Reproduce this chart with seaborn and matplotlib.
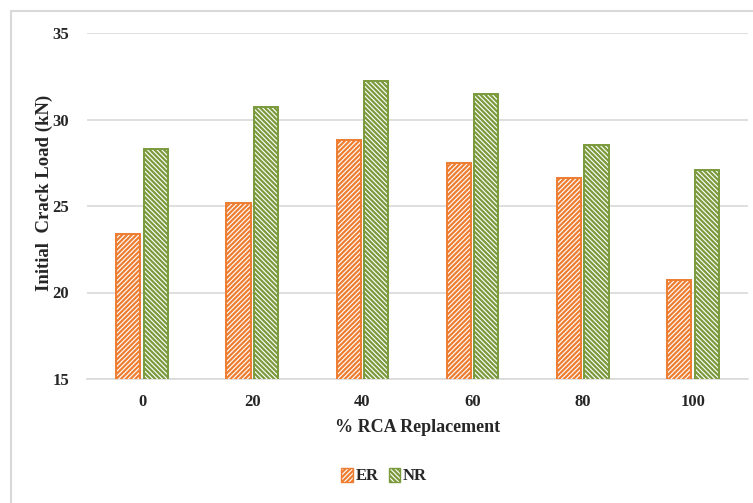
import matplotlib
matplotlib.use("Agg")
import matplotlib.pyplot as plt
import seaborn as sns
import pandas as pd
from matplotlib.patches import Patch, Rectangle

categories = ["0", "20", "40", "60", "80", "100"]
er_values = [23.4, 25.2, 28.8, 27.5, 26.6, 20.7]
nr_values = [28.3, 30.7, 32.2, 31.5, 28.5, 27.1]
series_names = ["ER", "NR"]
y_ticks = [15, 20, 25, 30, 35]

df = pd.DataFrame({
    "cat": categories * 2,
    "val": er_values + nr_values,
    "series": [series_names[0]] * len(categories) + [series_names[1]] * len(categories),
})

sns.set_style("white")
plt.rcParams["font.family"] = ["Liberation Serif", "DejaVu Serif"]
plt.rcParams["font.weight"] = "bold"
plt.rcParams["hatch.linewidth"] = 1.6

colors = {"ER": "#ED7D31", "NR": "#7A9A3C"}
hatches = {"ER": "/" * 7, "NR": "\\" * 7}

fig = plt.figure(figsize=(7.53, 5.03), dpi=100)
fig.patches.append(Rectangle((11 / 753, -0.1), 1.2, 1 - 11 / 503 + 0.1,
                             transform=fig.transFigure, fill=False,
                             edgecolor="#d9d9d9", linewidth=1.5, zorder=0))
ax = fig.add_axes([87 / 753, 1 - 379 / 503, (748 - 87) / 753, (379 - 33) / 503])

sns.barplot(data=df, x="cat", y="val", hue="series", order=categories,
            hue_order=series_names, palette=colors, width=0.5, gap=0.12,
            ax=ax, legend=False)

for cont, name in zip(ax.containers, series_names):
    for bar in cont:
        bar.set_facecolor("white")
        bar.set_edgecolor(colors[name])
        bar.set_hatch(hatches[name])
        bar.set_linewidth(1.4)
        bar.set_zorder(3)

ax.set_ylim(15, 35)
ax.set_yticks(y_ticks)
ax.yaxis.grid(True, color="#d9d9d9", linewidth=1.2, zorder=0)
ax.set_axisbelow(True)
for s in ["top", "right", "left"]:
    ax.spines[s].set_visible(False)
ax.spines["bottom"].set_color("#d9d9d9")
ax.spines["bottom"].set_linewidth(1.2)
ax.tick_params(axis="both", length=0, labelsize=12)
ax.tick_params(axis="y", pad=13)
ax.tick_params(axis="x", pad=11)
for lab in ax.get_xticklabels() + ax.get_yticklabels():
    lab.set_fontweight("bold")

ax.set_xlabel("% RCA Replacement", fontsize=13, fontweight="bold", labelpad=6)
ax.set_ylabel("Initial  Crack Load (kN)", fontsize=13.5, fontweight="bold")
ax.yaxis.set_label_coords((53 - 87) / (748 - 87), (379 - 193) / (379 - 33))

handles = [Patch(facecolor="white", edgecolor=colors[n], hatch=hatches[n], label=n)
           for n in series_names]
fig.legend(handles=handles, loc="center", bbox_to_anchor=(0.51, 1 - 476 / 503),
           ncol=2, frameon=False, handlelength=0.7, handleheight=0.9,
           handletextpad=0.15, columnspacing=0.6, prop={"weight": "bold", "size": 12})

fig.savefig("out.png", dpi=100)
